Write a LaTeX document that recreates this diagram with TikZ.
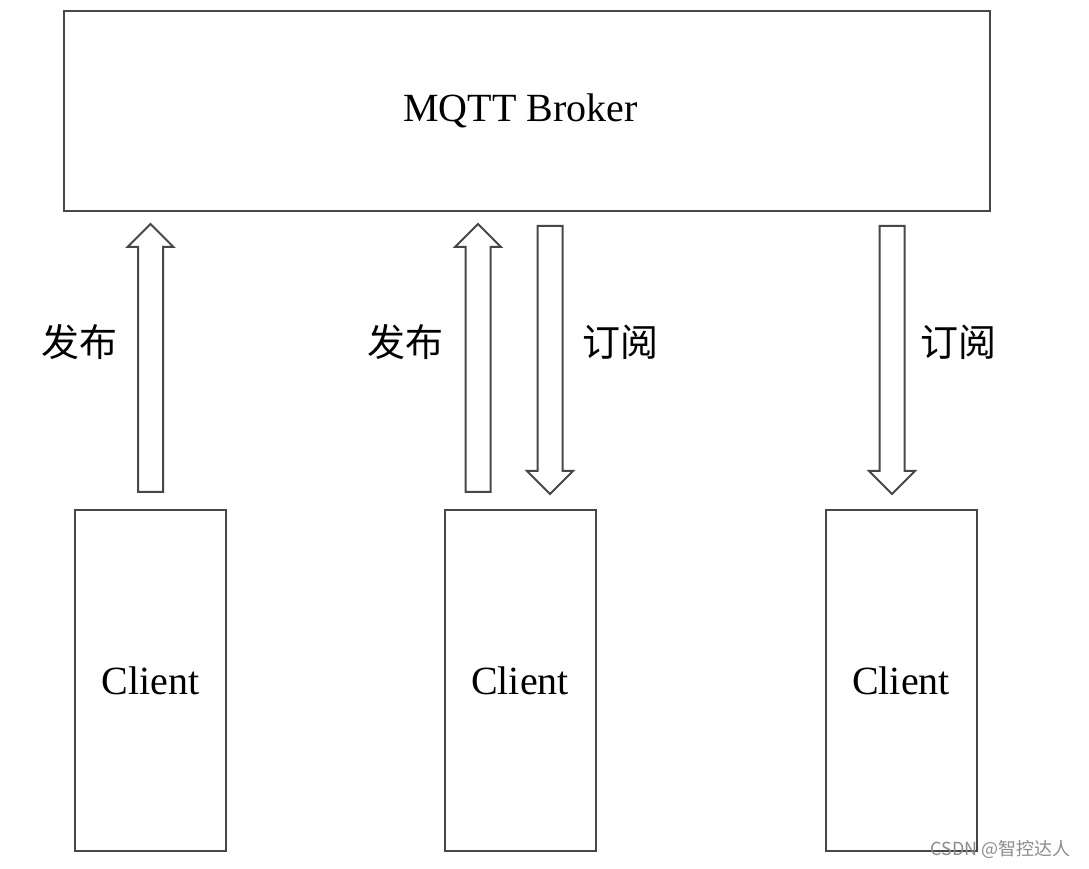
\documentclass[tikz,border=0pt]{standalone}
\usepackage{fontspec}
\setmainfont{Liberation Serif}
\newfontfamily\cjk{Noto Sans CJK SC}
\begin{document}
\begin{tikzpicture}[x=1pt,y=1pt,
  box/.style={draw=black!72,line width=2pt,rectangle,inner sep=0pt,font=\fontsize{40}{44}\selectfont},
  arrowline/.style={draw=black!72,line width=2pt,line join=miter},
  label/.style={font=\cjk\fontsize{38}{42}\selectfont,inner sep=0pt},
  blockup/.pic={\draw[arrowline] (-12.5,0) -- (-12.5,245) -- (-23,245) -- (0,268) -- (23,245) -- (12.5,245) -- (12.5,0) -- cycle;},
  blockdown/.pic={\draw[arrowline] (-12.5,0) -- (-12.5,-245) -- (-23,-245) -- (0,-268) -- (23,-245) -- (12.5,-245) -- (12.5,0) -- cycle;}
]
\useasboundingbox (0,0) rectangle (1089,868);
\fill[white] (0,0) rectangle (1089,868);

% broker and clients
\node[box,minimum width=926pt,minimum height=200pt] (broker) at (527,757) {};
\node[font=\fontsize{40}{44}\selectfont,inner sep=0pt] (brokertext) at ([xshift=-6.5pt]broker.center) {MQTT Broker};
\node[box,minimum width=151pt,minimum height=341pt] (c1) at (150.5,187.5) {Client};
\node[box,minimum width=151pt,minimum height=341pt] (c2) at (520,187.5) {Client};
\node[box,minimum width=151pt,minimum height=341pt] (c3) at (901,187.5) {Client};

% arrow anchors between clients and broker
\coordinate (p1) at ([yshift=17pt]c1.north);
\coordinate (p2) at ([xshift=-42pt,yshift=17pt]c2.north);
\coordinate (s2) at ([xshift=30pt,yshift=-14pt]broker.south -| c2.north);
\coordinate (s3) at ([xshift=-9pt,yshift=-14pt]broker.south -| c3.north);

\pic at (p1) {blockup};
\pic at (p2) {blockup};
\pic at (s2) {blockdown};
\pic at (s3) {blockdown};

% labels
\node[label] (l1) at (79,526) {发布};
\node[label] (l2) at (405,526) {发布};
\node[label] (l3) at (620,526) {订阅};
\node[label] (l4) at (958,526) {订阅};

% watermark
\node[font=\cjk\fontsize{18}{20}\selectfont,text=black!45,anchor=east,inner sep=0pt] (wm) at (1071,19) {CSDN @智控达人};
\end{tikzpicture}
\end{document}
